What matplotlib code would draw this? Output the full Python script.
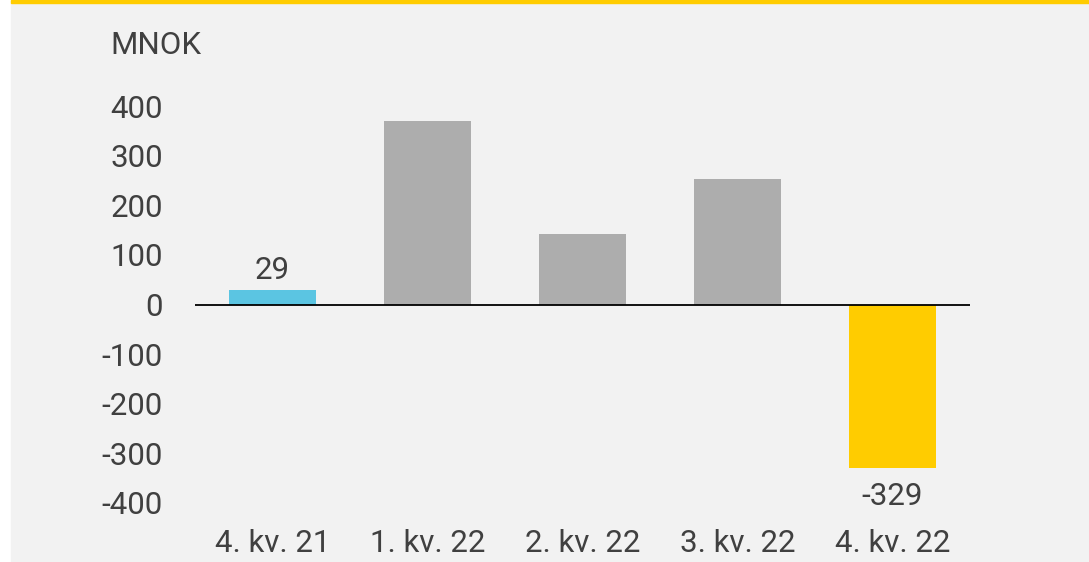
import matplotlib.pyplot as plt
from matplotlib.patches import Rectangle

# data (MNOK)
quarters = ["4. kv. 21", "1. kv. 22", "2. kv. 22", "3. kv. 22", "4. kv. 22"]
values = [29, 369, 143, 252, -329]
bar_colors = ["#5bc5e2", "#adadad", "#adadad", "#adadad", "#ffcc00"]
labelled = {0: "29", 4: "-329"}
yticks = [-400, -300, -200, -100, 0, 100, 200, 300, 400]

plt.rcParams['font.family'] = ['Roboto', 'DejaVu Sans']
plt.rcParams['axes.unicode_minus'] = False
txt = "#404040"
bg = "#f2f2f2"
fs = 22.5

fig = plt.figure(figsize=(10.89, 5.62), dpi=100)
fig.patch.set_facecolor("white")
# grey panel with yellow rule on top
fig.add_artist(Rectangle((11 / 1089, 0), 1, 1, transform=fig.transFigure, color=bg, zorder=-10))
fig.add_artist(Rectangle((11 / 1089, 1 - 3 / 562), 1, 3 / 562, transform=fig.transFigure,
                         color="#ffcc00", zorder=-9))

ax = fig.add_axes([195 / 1089, 59 / 562, 775 / 1089, 397 / 562])
ax.set_facecolor("none")

x = range(len(quarters))
ax.bar(x, values, width=0.555, color=bar_colors)
ax.axhline(0, color="black", lw=1.3)

for i, lab in labelled.items():
    v = values[i]
    if v >= 0:
        ax.annotate(lab, (i, v), xytext=(0, 4), textcoords="offset points",
                    ha="center", va="bottom", fontsize=fs, color=txt)
    else:
        ax.annotate(lab, (i, v), xytext=(0, -10), textcoords="offset points",
                    ha="center", va="top", fontsize=fs, color=txt)

ax.set_xlim(-0.5, len(quarters) - 0.5)
ax.set_ylim(-400, 400)
ax.set_yticks(yticks)
ax.set_xticks(list(x), labels=quarters)
ax.tick_params(axis="y", length=0, pad=23, labelsize=fs, labelcolor=txt)
ax.tick_params(axis="x", length=0, pad=19, labelsize=fs, labelcolor=txt)
for s in ax.spines.values():
    s.set_visible(False)

fig.text(110 / 1089, 1 - 45 / 562, "MNOK", ha="left", va="center", fontsize=fs, color=txt)

fig.savefig("out.png", dpi=100)
